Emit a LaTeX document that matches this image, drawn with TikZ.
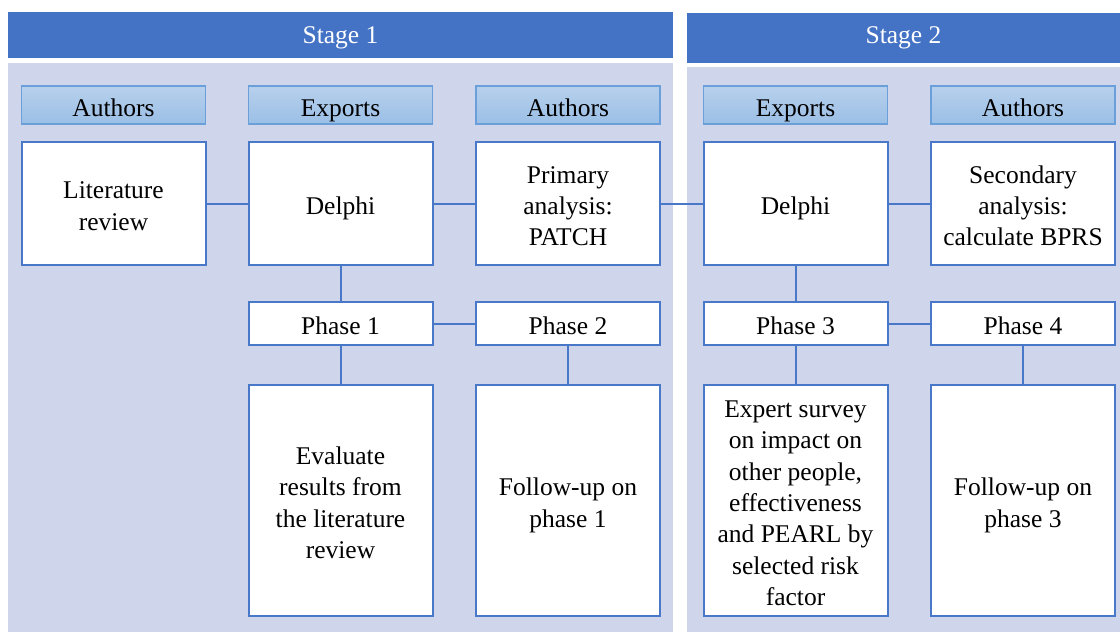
\documentclass[tikz,border=0pt]{standalone}
\usepackage{fontspec}
\setmainfont{Liberation Serif}
\definecolor{stageblue}{HTML}{4472C4}
\definecolor{panelfill}{HTML}{CFD5EA}
\definecolor{boxline}{HTML}{4A78C8}
\definecolor{tabtop}{HTML}{B7D0EC}
\definecolor{tabbottom}{HTML}{9BBFE6}
\definecolor{tabline}{HTML}{6A9FDA}
\begin{document}
\begin{tikzpicture}[x=1pt,y=-1pt,
  every node/.style={font=\fontsize{25.5}{31.3}\selectfont},
  % fixed line metrics: one line is 29pt high and 7pt deep, further lines add 31.3pt
  oneline/.style={text height=29pt, text depth=7pt},
  twolines/.style={text height=60.3pt, text depth=7pt},
  threelines/.style={text height=91.6pt, text depth=7pt},
  fourlines/.style={text height=122.9pt, text depth=7pt},
  sevenlines/.style={text height=216.8pt, text depth=7pt},
  stagebar/.style={fill=stageblue, draw=none, text=white, inner sep=0pt},
  panel/.style={fill=panelfill, draw=none},
  tab/.style={draw=tabline, line width=1.2pt, top color=tabtop, bottom color=tabbottom,
    minimum width=184pt, minimum height=38pt, inner sep=0pt, oneline},
  stepbox/.style={draw=boxline, line width=2pt, fill=white, align=center,
    minimum width=184pt, inner sep=0pt},
  link/.style={draw=boxline, line width=2pt}]
\useasboundingbox (0,0) rectangle (1120,632);
\fill[white] (0,0) rectangle (1120,632);

% stage bands and their panels
\fill[panel] (8,63) rectangle (673,632);
\fill[panel] (687,67) rectangle (1120,632);
\node[stagebar, minimum width=665pt, minimum height=46pt, text height=22pt, text depth=6pt] (stage1) at (340.5,35) {Stage 1};
\node[stagebar, minimum width=433pt, minimum height=50pt, text height=17pt, text depth=6pt] (stage2) at (903.5,37.5) {Stage 2};

% column headings
\node[tab] (h1) at (113.5,105) {Authors};
\node[tab] (h2) at (340.5,105) {Exports};
\node[tab] (h3) at (568,105) {Authors};
\node[tab] (h4) at (795.5,105) {Exports};
\node[tab] (h5) at (1023,105) {Authors};

% top row
\node[stepbox, twolines, minimum height=123pt] (lit) at (113.5,203.5) {Literature\\review};
\node[stepbox, oneline, minimum height=123pt] (del1) at (340.5,203.5) {Delphi};
\node[stepbox, threelines, minimum height=123pt] (prim) at (568,203.5) {Primary\\analysis:\\PATCH};
\node[stepbox, oneline, minimum height=123pt] (del2) at (795.5,203.5) {Delphi};
\node[stepbox, threelines, minimum height=123pt] (sec) at (1023,203.5) {Secondary\\analysis:\\calculate BPRS};

% phases
\node[stepbox, oneline, minimum height=43pt] (ph1) at (340.5,323.5) {Phase 1};
\node[stepbox, oneline, minimum height=43pt] (ph2) at (568,323.5) {Phase 2};
\node[stepbox, oneline, minimum height=43pt] (ph3) at (795.5,323.5) {Phase 3};
\node[stepbox, oneline, minimum height=43pt] (ph4) at (1023,323.5) {Phase 4};

% phase contents
\node[stepbox, fourlines, minimum height=231pt] (eval) at (340.5,500.5) {Evaluate\\results from\\the literature\\review};
\node[stepbox, twolines, minimum height=231pt] (fol1) at (568,500.5) {Follow-up on\\phase 1};
\node[stepbox, sevenlines, minimum height=231pt] (exp) at (795.5,500.5) {Expert survey\\on impact on\\other people,\\effectiveness\\and PEARL by\\selected risk\\factor};
\node[stepbox, twolines, minimum height=231pt] (fol3) at (1023,500.5) {Follow-up on\\phase 3};

% connectors
\draw[link] (lit.east) -- (del1.west);
\draw[link] (del1.east) -- (prim.west);
\draw[link] (prim.east) -- (del2.west);
\draw[link] (del2.east) -- (sec.west);
\draw[link] (del1.south) -- (ph1.north);
\draw[link] (del2.south) -- (ph3.north);
\draw[link] (ph1.east) -- (ph2.west);
\draw[link] (ph3.east) -- (ph4.west);
\draw[link] (ph1.south) -- (eval.north);
\draw[link] (ph2.south) -- (fol1.north);
\draw[link] (ph3.south) -- (exp.north);
\draw[link] (ph4.south) -- (fol3.north);
\end{tikzpicture}
\end{document}
